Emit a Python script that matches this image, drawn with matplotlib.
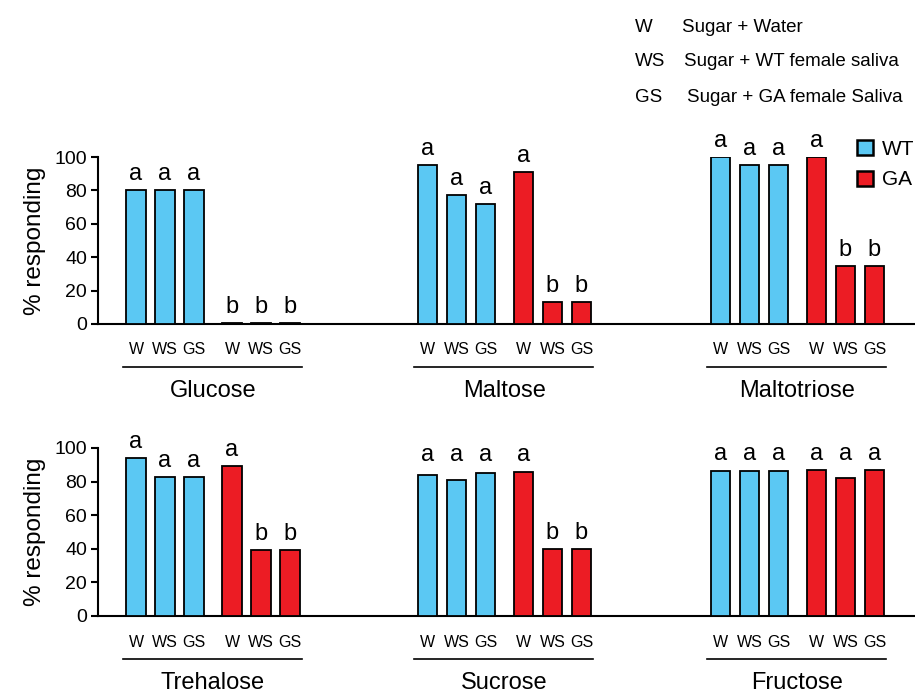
import matplotlib.pyplot as plt
from matplotlib.patches import Patch
from matplotlib.transforms import blended_transform_factory

plt.rcParams['font.family'] = ['Liberation Sans', 'DejaVu Sans']

# --- dados ---
conditions = ['W', 'WS', 'GS']
row1_sugars = ['Glucose', 'Maltose', 'Maltotriose']
row2_sugars = ['Trehalose', 'Sucrose', 'Fructose']

# % responding, WT (W, WS, GS) e GA (W, WS, GS)
wt_row1 = [[80, 80, 80], [95, 77, 72], [100, 95, 95]]
ga_row1 = [[0.5, 0.5, 0.5], [91, 13, 13], [100, 35, 35]]
wt_row2 = [[94, 83, 83], [84, 81, 85], [86.5, 86.5, 86.5]]
ga_row2 = [[89, 39, 39], [86, 40, 40], [87, 82, 87]]

# letras de significancia
let_row1 = [['a', 'a', 'a', 'b', 'b', 'b'],
            ['a', 'a', 'a', 'a', 'b', 'b'],
            ['a', 'a', 'a', 'a', 'b', 'b']]
let_row2 = [['a', 'a', 'a', 'a', 'b', 'b'],
            ['a', 'a', 'a', 'a', 'b', 'b'],
            ['a', 'a', 'a', 'a', 'a', 'a']]
# grupos em que as letras 'a' ficam alinhadas na mesma altura
aligned_row1 = [False, False, False]
aligned_row2 = [False, True, True]

legend_abbr = ['W', 'WS', 'GS']
legend_desc = ['Sugar + Water', 'Sugar + WT female saliva', 'Sugar + GA female Saliva']

BLUE = '#5BC8F3'
RED = '#EC1C24'

W, H = 915, 693
fig = plt.figure(figsize=(W / 100, H / 100), dpi=100)

group_x = [0, 10.05, 20.15]
ga_shift = 3.31
bw = 0.66


def painel(ax, sugars, wt, ga, letters, aligned):
    trans = blended_transform_factory(ax.transData, ax.transAxes)
    for g, name in enumerate(sugars):
        x0 = group_x[g]
        xs_wt = [x0 + i for i in range(3)]
        xs_ga = [x0 + ga_shift + i for i in range(3)]
        ax.bar(xs_wt, wt[g], width=bw, color=BLUE, edgecolor='black', linewidth=1.3, zorder=3)
        ax.bar(xs_ga, ga[g], width=bw, color=RED, edgecolor='black', linewidth=1.3, zorder=3)
        vals = wt[g] + ga[g]
        top_a = max(v for v, l in zip(vals, letters[g]) if l == 'a')
        for x, v, l in zip(xs_wt + xs_ga, vals, letters[g]):
            y = top_a if (aligned[g] and l == 'a') else v
            ax.text(x, y + 3, l, ha='center', va='bottom', fontsize=17, clip_on=False)
        for x, c in zip(xs_wt + xs_ga, conditions * 2):
            ax.text(x, -0.155, c, transform=trans, ha='center', va='center', fontsize=11.5)
        ax.plot([x0 - 0.45, x0 + ga_shift + 2.4], [-0.257, -0.257], transform=trans,
                color='black', linewidth=1.2, clip_on=False)
        ax.text(x0 + ga_shift / 2 + 1, -0.40, name, transform=trans, ha='center',
                va='center', fontsize=17)

    ax.set_xlim(-1.31, 26.86)
    ax.set_ylim(0, 100)
    ax.set_yticks([0, 20, 40, 60, 80, 100])
    ax.set_xticks([])
    ax.tick_params(axis='y', labelsize=14, width=1.5, length=5, direction='out', pad=3)
    for s in ['top', 'right']:
        ax.spines[s].set_visible(False)
    ax.spines['left'].set_linewidth(1.5)
    ax.spines['bottom'].set_linewidth(1.5)
    ax.set_ylabel('% responding', fontsize=17.5, labelpad=6)


ax1 = fig.add_axes([98 / W, 1 - 324 / H, (W - 98) / W, 167 / H])
painel(ax1, row1_sugars, wt_row1, ga_row1, let_row1, aligned_row1)
ax2 = fig.add_axes([98 / W, 1 - 616 / H, (W - 98) / W, 168 / H])
painel(ax2, row2_sugars, wt_row2, ga_row2, let_row2, aligned_row2)

# legenda de cores
handles = [Patch(facecolor=BLUE, edgecolor='black', linewidth=1.8),
           Patch(facecolor=RED, edgecolor='black', linewidth=1.8)]
fig.legend(handles, ['WT', 'GA'], loc='upper left', bbox_to_anchor=(857 / W, 1 - 140 / H),
           frameon=False, fontsize=15, handlelength=0.75, handleheight=0.75,
           handletextpad=0.45, labelspacing=0.55, borderpad=0, borderaxespad=0)

# legenda das abreviacoes
desc_x = [682, 684, 687]
for i, (a, d) in enumerate(zip(legend_abbr, legend_desc)):
    y = 1 - (27 + i * 35) / H
    fig.text(635 / W, y, a, ha='left', va='center', fontsize=13.5)
    fig.text(desc_x[i] / W, y, d, ha='left', va='center', fontsize=13.5)

fig.savefig('out.png', dpi=100)
